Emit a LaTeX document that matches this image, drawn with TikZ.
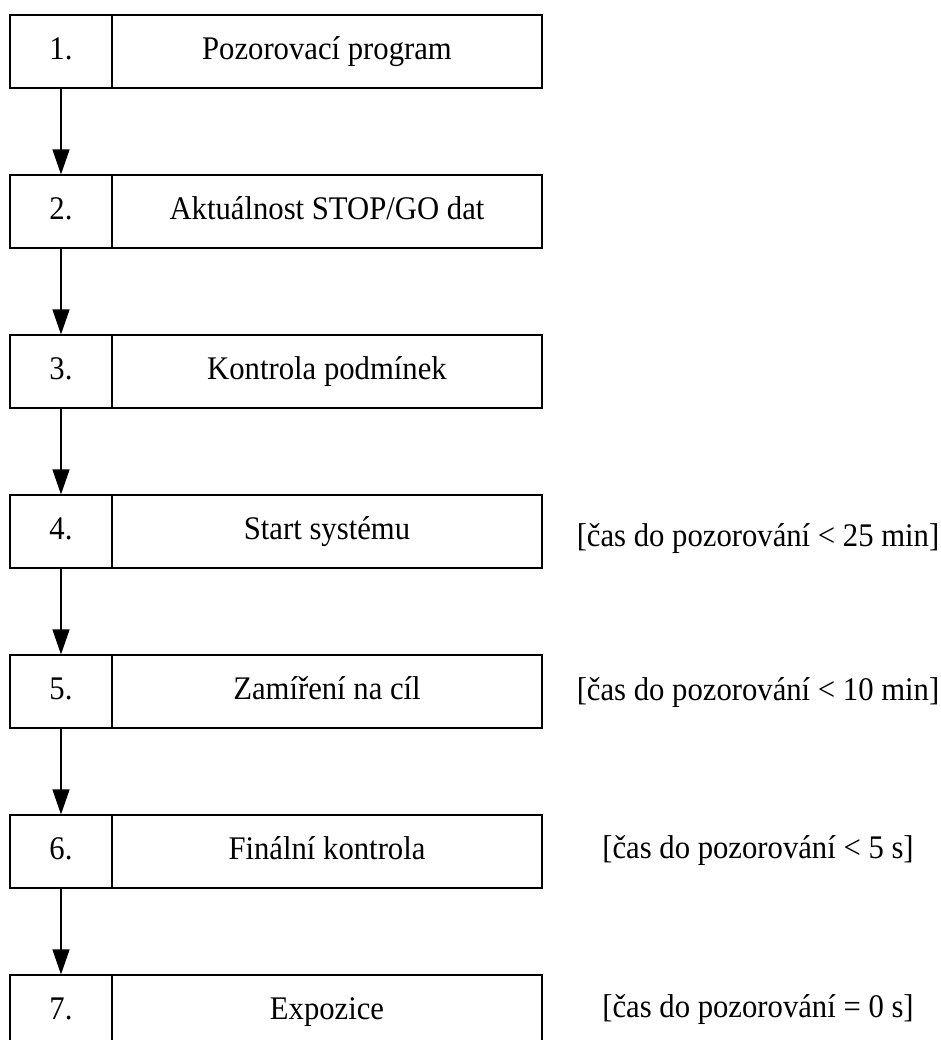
\documentclass[tikz,border=0pt]{standalone}
\usepackage{fontspec}
\setmainfont{Liberation Serif}[FakeStretch=0.93]
\usetikzlibrary{arrows.meta}
\begin{document}
\begin{tikzpicture}[x=0.5pt,y=-0.5pt,
  cell/.style={draw=black, line width=0.6pt, rectangle, inner sep=0pt,
    minimum height=36.5pt, text height=11.5pt, text depth=3.5pt,
    font=\fontsize{16.5pt}{20pt}\selectfont},
  numcell/.style={cell, minimum width=51pt},
  txtcell/.style={cell, minimum width=215pt},
  note/.style={anchor=base, inner sep=0pt, font=\fontsize{16.5pt}{20pt}\selectfont},
  flow/.style={draw=black, line width=0.6pt, -{Triangle[length=12.5pt,width=8.5pt]}}]
\useasboundingbox (0,0) rectangle (941,1040);
\fill[white] (0,0) rectangle (941,1040);

% step boxes: number cell + description cell, pitch 160 px
\node[numcell] (n1) at (61,51.5)  {1.};
\node[txtcell] (t1) at (327,51.5) {Pozorovací program};
\node[numcell] (n2) at (61,211.5) {2.};
\node[txtcell] (t2) at (327,211.5) {Aktuálnost STOP/GO dat};
\node[numcell] (n3) at (61,371.5) {3.};
\node[txtcell] (t3) at (327,371.5) {Kontrola podmínek};
\node[numcell] (n4) at (61,531.5) {4.};
\node[txtcell] (t4) at (327,531.5) {Start systému};
\node[numcell] (n5) at (61,691.5) {5.};
\node[txtcell] (t5) at (327,691.5) {Zamíření na cíl};
\node[numcell] (n6) at (61,851.5) {6.};
\node[txtcell] (t6) at (327,851.5) {Finální kontrola};
\node[numcell] (n7) at (61,1011.5) {7.};
\node[txtcell] (t7) at (327,1011.5) {Expozice};

% timing notes
\node[note] (c4) at (758,546)  {[čas do pozorování < 25 min]};
\node[note] (c5) at (758,700)  {[čas do pozorování < 10 min]};
\node[note] (c6) at (758,858)  {[čas do pozorování < 5 s]};
\node[note] (c7) at (758,1017) {[čas do pozorování = 0 s]};

% flow arrows
\draw[flow] (n1) -- (n2);
\draw[flow] (n2) -- (n3);
\draw[flow] (n3) -- (n4);
\draw[flow] (n4) -- (n5);
\draw[flow] (n5) -- (n6);
\draw[flow] (n6) -- (n7);
\end{tikzpicture}
\end{document}
